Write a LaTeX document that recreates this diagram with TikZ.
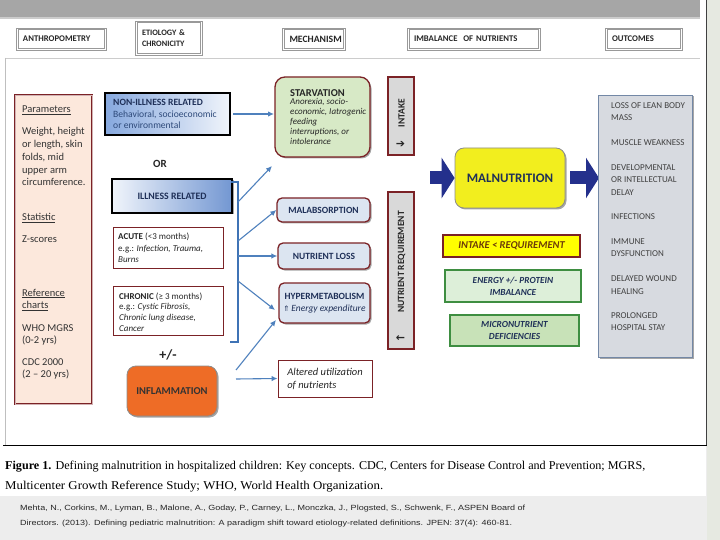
\documentclass[tikz,border=0pt]{standalone}
\usepackage{fontspec}
\usepackage{graphicx}
\setmainfont{Carlito}
\newfontfamily\capfont{Liberation Serif}
\newfontfamily\citefont{Liberation Sans}
\newfontfamily\symfont{DejaVu Sans}
\usetikzlibrary{shadows,arrows.meta}
\definecolor{pagebg}{HTML}{EDEDED}
\definecolor{sidebg}{HTML}{E6E9E1}
\definecolor{topbar}{HTML}{A6A6A6}
\definecolor{mymaroon}{HTML}{7B2226}
\definecolor{peach}{HTML}{FCE8DC}
\definecolor{starvg}{HTML}{D7E9C6}
\definecolor{mechb}{HTML}{DCE5F1}
\definecolor{boxgray}{HTML}{D9D9D9}
\definecolor{arrblue}{HTML}{4F81BD}
\definecolor{brblue}{HTML}{3F73B5}
\definecolor{navyA}{HTML}{24308C}
\definecolor{malyel}{HTML}{F2EE1E}
\definecolor{ireqyel}{HTML}{FFFF00}
\definecolor{engreen}{HTML}{DDEFD9}
\definecolor{micgreen}{HTML}{C8E2B8}
\definecolor{grborder}{HTML}{3E8E41}
\definecolor{outfill}{HTML}{D7DAE0}
\definecolor{outborder}{HTML}{7388A6}
\definecolor{inflor}{HTML}{EE6C26}
\definecolor{txtnavy}{HTML}{1F3058}
\definecolor{txtblue}{HTML}{2E4A7A}
\definecolor{txtdark}{HTML}{333333}
\definecolor{nbblue}{HTML}{86A8DE}
\definecolor{ilblue}{HTML}{7397D2}
\definecolor{ireqtxt}{HTML}{6B3A0A}
\newcommand{\fsz}[2]{\fontsize{#1}{#2}\selectfont}
\begin{document}
\begin{tikzpicture}[x=1pt,y=-1pt,
  sh/.style={drop shadow={shadow xshift=1.5pt,shadow yshift=-1.5pt,opacity=0.35,fill=black}},
  hdr/.style={draw=black!40,line width=0.8pt,fill=white,
    inner xsep=7pt,inner ysep=0pt,font=\fsz{8.7}{10}\bfseries,text=black!85,align=left},
  hdrin/.style={draw=black!40,line width=0.6pt},
  lt/.style={anchor=base west,inner sep=0pt,font=\fsz{10.5}{12},text=txtdark},
  mech/.style={draw=mymaroon,line width=1.3pt,rounded corners=5pt,fill=mechb,sh,inner sep=2pt,
    font=\fsz{9.5}{11.5}\bfseries,text=txtnavy,align=center},
  vbox/.style={draw=mymaroon,line width=1.5pt,fill=boxgray,inner sep=0pt},
  arr/.style={draw=arrblue,line width=1.1pt,-{Latex[length=6pt,width=5.5pt]}},
  navyarr/.style={draw=navyA,line width=13pt,-{Triangle[length=13pt,width=40pt]}},
  otxt/.style={anchor=base west,inner sep=0pt,font=\fsz{9}{11},text=black!75}]
\useasboundingbox (0,0) rectangle (720,540);
% page background
\fill[pagebg] (0,0) rectangle (720,540);
\fill[sidebg] (707,0) rectangle (720,540);
\fill[white] (0,0) rectangle (706,496);
\fill[black!20] (0,17) rectangle (700,19.5);
\fill[topbar] (0,0) rectangle (700,17);
\draw[black!75,line width=0.9pt] (706.5,0) -- (706.5,445);
\draw[black!20,line width=0.5pt] (5,58) -- (700,58);
\draw[black!25,line width=0.5pt] (5,58) -- (5,445);
\draw[black,line width=0.8pt] (3,445) -- (706.5,445);

% headers
\node[hdr,text width=76pt,minimum height=22pt] (hA) at (61,39) {ANTHROPOMETRY};
\node[hdr,text width=53pt,minimum height=34pt,font=\fsz{8.3}{11}\bfseries] (hE) at (168.5,38) {ETIOLOGY \&\\CHRONICITY};
\node[hdr,text width=49pt,minimum height=22pt,font=\fsz{9.7}{11}\bfseries] (hM) at (314,39) {MECHANISM};
\node[hdr,text width=119pt,minimum height=22pt] (hI) at (473.5,39) {IMBALANCE\ \ OF NUTRIENTS};
\node[hdr,text width=63pt,minimum height=22pt] (hO) at (643.5,39) {OUTCOMES};
\foreach \h in {hA,hE,hM,hI,hO}
  \draw[hdrin] ([shift={(2.2,2.2)}]\h.north west) rectangle ([shift={(-2.2,-2.2)}]\h.south east);

% anthropometry column
\node[draw=mymaroon,line width=0.8pt,double=mymaroon!35,double distance=0.8pt,fill=peach,
  minimum width=77pt,minimum height=309pt,inner sep=0pt] (lc) at (53.5,249.5) {};
\foreach \y/\t [count=\i] in {113/{\underline{Parameters}},135/{Weight, height},147.7/{or length, skin},
  160.4/{folds, mid},173.1/{upper arm},185.8/{circumference.},221/{\underline{Statistic}},243/{Z-scores},
  296/{\underline{Reference}},308.5/{\underline{charts}},331/{WHO MGRS},343.5/{(0-2 yrs)},
  365/{CDC 2000},377.5/{(2 -- 20 yrs)}}
  \node[lt] (l\i) at (22,\y) {\t};

% etiology column
\node[draw=black,line width=1.3pt,left color=nbblue,right color=nbblue!12,
  minimum width=125pt,minimum height=42pt,inner sep=0pt] (nonill) at (167.5,114) {};
\node[anchor=west,inner sep=0pt,align=left,font=\fsz{9.6}{11.8},text=txtblue] (nonillt) at (113,114)
  {\textcolor{txtnavy}{\textbf{NON-ILLNESS RELATED}}\\Behavioral, socioeconomic\\or environmental};
\node[inner sep=0pt,font=\fsz{11}{13}\bfseries,text=black!85] (ortxt) at (160,164) {OR};
\node[draw=black,line width=1.3pt,left color=nbblue!12,right color=ilblue,sh,
  minimum width=120pt,minimum height=34pt,inner sep=0pt,font=\fsz{9.8}{11}\bfseries,text=txtnavy] (illness) at (172,196) {ILLNESS RELATED};
\node[draw=mymaroon,line width=0.9pt,fill=white,minimum width=110pt,minimum height=41pt,inner sep=0pt] (acute) at (168,247.5) {};
\node[anchor=west,inner sep=0pt,align=left,font=\fsz{9}{11.3},text=black!85] (acutet) at (118,248)
  {\textbf{ACUTE} (<3 months)\\e.g.: \textit{Infection, Trauma,}\\\textit{Burns}};
\node[draw=mymaroon,line width=0.9pt,fill=white,minimum width=110pt,minimum height=49pt,inner sep=0pt] (chronic) at (168,310.5) {};
\node[anchor=west,inner sep=0pt,align=left,font=\fsz{9}{10.7},text=black!85] (chronict) at (119,312)
  {\textbf{CHRONIC} (≥ 3 months)\\e.g.: \textit{Cystic Fibrosis,}\\\textit{Chronic lung disease,}\\\textit{Cancer}};
\node[inner sep=0pt,font=\fsz{14}{16}\bfseries,text=black!85] (pm) at (168,355) {+/-};
\node[draw=black!45,line width=0.8pt,fill=inflor,rounded corners=9pt,sh,minimum width=90pt,minimum height=50pt,
  inner sep=0pt,font=\fsz{10.5}{12}\bfseries,text=black!80] (infl) at (172,391) {INFLAMMATION};

% bracket
\coordinate (br1) at (231,182);
\coordinate (br2) at (238,182);
\coordinate (br3) at (238,342);
\coordinate (br4) at (230,342);
\draw[brblue,line width=2pt] (br1) -- (br2) -- (br3) -- (br4);

% mechanism column
\node[draw=mymaroon,line width=1.3pt,rounded corners=10pt,fill=starvg,sh,minimum width=95pt,minimum height=80pt,inner sep=0pt] (starv) at (322.5,117) {};
\node[anchor=base west,inner sep=0pt,font=\fsz{10.5}{12}\bfseries,text=black!85] (starvt) at (290,97) {STARVATION};
\node[anchor=north west,inner sep=0pt,align=left,font=\fsz{9}{9.8}\itshape,text=black!85] (starvs) at (290,98.5)
  {Anorexia, socio-\\economic, Iatrogenic\\feeding\\interruptions, or\\intolerance};
\node[mech,minimum width=93pt,minimum height=24pt] (malab) at (323.5,210) {MALABSORPTION};
\node[mech,minimum width=92pt,minimum height=26pt] (nutloss) at (324,256) {NUTRIENT LOSS};
\node[mech,minimum width=91pt,minimum height=40pt,font=\fsz{9.5}{11.5}] (hyper) at (324.5,303)
  {\textbf{HYPERMETABOLISM}\\{\symfont\fsz{7.5}{9}⇑}\,\textit{Energy expenditure}};
\node[draw=mymaroon,line width=0.9pt,fill=white,minimum width=94pt,minimum height=37pt,inner sep=0pt,
  align=left,font=\fsz{10.5}{13}\itshape,text=black!85] (alt) at (325,378.5) {Altered utilization\\of nutrients};

\node[vbox,minimum width=26pt,minimum height=78pt] (intake) at (401,116) {};
\node[rotate=90,inner sep=0pt,font=\fsz{9.5}{11}\bfseries,text=black!85] (intaket) at (401.5,113) {INTAKE};
\node[inner sep=0pt,font=\symfont\bfseries\fsz{11}{12},text=black!85] (intakea) at (400.5,144) {➔};
\node[vbox,minimum width=26pt,minimum height=157pt] (nutreq) at (401,270.5) {};
\node[rotate=90,inner sep=0pt,font=\fsz{9.5}{11}\bfseries,text=black!85] (nutreqt) at (401.5,262) {NUTRIENT REQUIREMENT};
\node[inner sep=0pt,font=\symfont\bfseries\fsz{11}{12},text=black!85] (nutreqa) at (400.5,339) {←};

% arrows from etiology to mechanism
\coordinate (s1) at (233,114);
\coordinate (e1) at (274,114);
\coordinate (s2) at (238,202);
\coordinate (e2) at (272,166);
\coordinate (s3) at (238,241);
\coordinate (s4) at (238,256);
\coordinate (s5) at (238,281);
\coordinate (e5) at (275,310);
\coordinate (s6) at (236,370);
\coordinate (e6) at (276,320);
\coordinate (s7) at (236,379);
\draw[arr] (s1) -- (e1);
\draw[arr] (s2) -- (e2);
\draw[arr] (s3) -- (malab.west);
\draw[arr] (s4) -- (nutloss.west);
\draw[arr] (s5) -- (e5);
\draw[arr] (s6) -- (e6);
\draw[arr] (s7) -- (alt.west);

% imbalance column
\node[draw=black!45,line width=0.8pt,fill=malyel,rounded corners=9pt,sh,minimum width=110pt,minimum height=60pt,
  inner sep=0pt,font=\fsz{13}{15}\bfseries,text=txtnavy] (mal) at (510,178) {MALNUTRITION};
\coordinate (nin) at (430,178);
\coordinate (nout) at (599,178);
\draw[navyarr] (nin) -- (mal.west);
\draw[navyarr] ([xshift=5pt]mal.east) -- (nout);
\node[draw=mymaroon,line width=1.5pt,fill=ireqyel,minimum width=137pt,minimum height=22pt,inner sep=0pt,
  font=\fsz{10.5}{12}\bfseries\itshape,text=ireqtxt] (ireq) at (511.5,246) {INTAKE < REQUIREMENT};
\node[draw=grborder,line width=1.3pt,fill=engreen,minimum width=136pt,minimum height=32pt,inner sep=0pt,
  align=center,font=\fsz{9.3}{12}\bfseries\itshape,text=txtnavy] (energy) at (513,286) {ENERGY +/- PROTEIN\\IMBALANCE};
\node[draw=grborder,line width=1.3pt,fill=micgreen,minimum width=129pt,minimum height=31pt,inner sep=0pt,
  align=center,font=\fsz{9.3}{12}\bfseries\itshape,text=txtnavy] (micro) at (514.5,330.5) {MICRONUTRIENT\\DEFICIENCIES};

% outcomes column
\node[draw=outborder,line width=0.6pt,fill=outfill,sh,minimum width=94pt,minimum height=262pt,inner sep=0pt] (outc) at (645,226) {};
\foreach \y/\t [count=\i] in {108.5/{LOSS OF LEAN BODY},121/{MASS},146/{MUSCLE WEAKNESS},170.5/{DEVELOPMENTAL},
  183/{OR INTELLECTUAL},195.5/{DELAY},220/{INFECTIONS},244.5/{IMMUNE},256.5/{DYSFUNCTION},
  281/{DELAYED WOUND},294/{HEALING},318/{PROLONGED},330.5/{HOSPITAL STAY}}
  \node[otxt] (o\i) at (611,\y) {\t};

% caption
\node[anchor=base west,inner sep=0pt,font=\capfont\fsz{12}{14},text=black] (cap1) at (5,469)
  {\resizebox{640pt}{\height}{\textbf{Figure 1.} Defining malnutrition in hospitalized children: Key concepts. CDC, Centers for Disease Control and Prevention; MGRS,}};
\node[anchor=base west,inner sep=0pt,font=\capfont\fsz{12}{14},text=black] (cap2) at (5,489)
  {\resizebox{378pt}{\height}{Multicenter Growth Reference Study; WHO, World Health Organization.}};
\node[anchor=base west,inner sep=0pt,font=\citefont\fsz{7.5}{9},text=black!85] (cit1) at (20,510)
  {\resizebox{505pt}{\height}{Mehta, N., Corkins, M., Lyman, B., Malone, A., Goday, P., Carney, L., Monczka, J., Plogsted, S., Schwenk, F., ASPEN Board of}};
\node[anchor=base west,inner sep=0pt,font=\citefont\fsz{7.5}{9},text=black!85] (cit2) at (20,525)
  {\resizebox{492pt}{\height}{Directors. (2013). Defining pediatric malnutrition: A paradigm shift toward etiology-related definitions. JPEN: 37(4): 460-81.}};
\end{tikzpicture}
\end{document}
